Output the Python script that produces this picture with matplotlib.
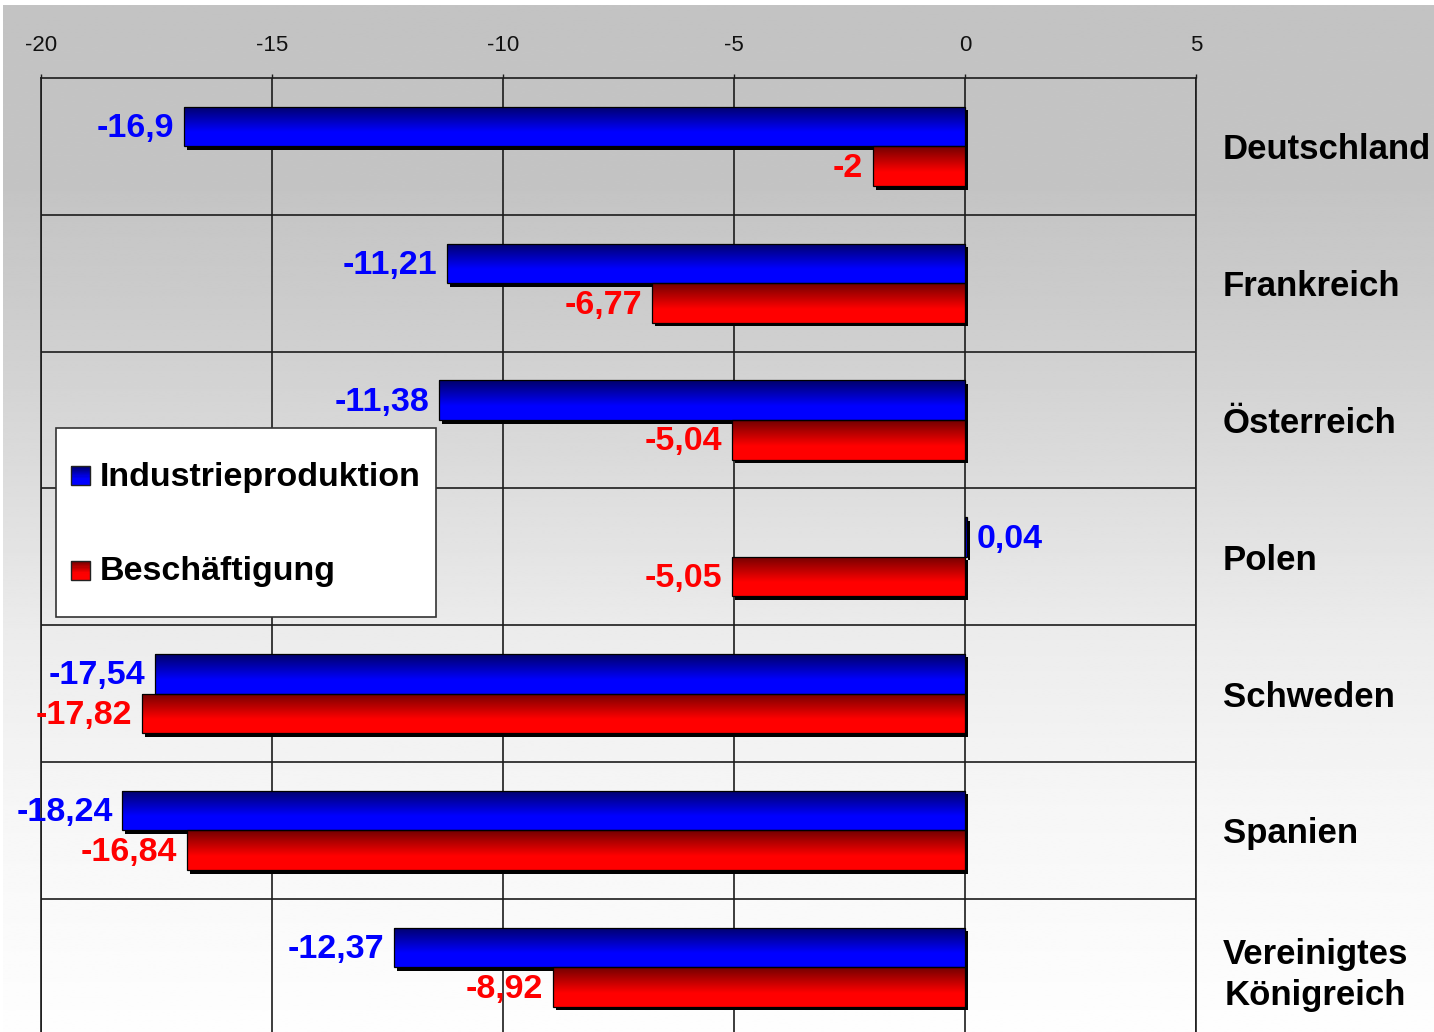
import numpy as np
import matplotlib
matplotlib.use("Agg")
import matplotlib.pyplot as plt
from matplotlib.patches import Rectangle
from matplotlib.legend_handler import HandlerBase
from matplotlib.transforms import ScaledTranslation

plt.rcParams["font.family"] = ["Liberation Sans", "DejaVu Sans"]
plt.rcParams["axes.unicode_minus"] = False

# Data: change in percent
countries = ["Deutschland", "Frankreich", "Österreich", "Polen",
             "Schweden", "Spanien", "Vereinigtes\nKönigreich"]
industrie = [-16.9, -11.21, -11.38, 0.04, -17.54, -18.24, -12.37]
beschaeftigung = [-2, -6.77, -5.04, -5.05, -17.82, -16.84, -8.92]
series_names = ["Industrieproduktion", "Beschäftigung"]
x_ticks = [-20, -15, -10, -5, 0, 5]

W, H, DPI = 1434, 1032, 100
fig = plt.figure(figsize=(W / DPI, H / DPI), dpi=DPI, facecolor="white")

# Gray-to-white background panel
bg = fig.add_axes([3 / W, 0, 1 - 3 / W, (H - 5) / H], zorder=-10)
rows = np.linspace(0, H - 5, 400)
shade = np.interp(rows, [0, 180, 300, 500, 630, 800, 1027],
                  [0.765, 0.768, 0.80, 0.875, 0.925, 0.965, 0.995])
bg.imshow(np.repeat(shade[:, None], 2, axis=1), cmap="gray", vmin=0, vmax=1,
          aspect="auto", extent=(0, 1, 1, 0), interpolation="bilinear")
bg.set_axis_off()

top_px, row_px = 78, 136.8
ax = fig.add_axes([41 / W, 1 - (top_px + 7 * row_px) / H, 1155 / W, 7 * row_px / H])
ax.set_facecolor("none")

n = len(countries)
centers = np.arange(n) + 0.5
bh = 0.29
line_col = "#1c1c1c"


def gradient(dark, bright, steps=64):
    t = np.linspace(0, 1, steps)
    f = np.clip(t / 0.65, 0, 1)
    c = np.array(dark)[None, :] * (1 - f[:, None]) + np.array(bright)[None, :] * f[:, None]
    return c[:, None, :]


grads = [gradient((0, 0, 0.42), (0, 0, 1.0)), gradient((0.45, 0, 0), (1.0, 0, 0))]
label_cols = ["#0000ff", "#ff0000"]
shadow_tr = ax.transData + ScaledTranslation(3 / DPI, -3.5 / DPI, fig.dpi_scale_trans)

for k, vals in enumerate([industrie, beschaeftigung]):
    ys = centers - bh / 2 if k == 0 else centers + bh / 2
    ax.barh(ys, vals, height=bh, color="black", transform=shadow_tr, zorder=3)
    bars = ax.barh(ys, vals, height=bh, facecolor="none", edgecolor="black",
                   linewidth=0.9, zorder=5)
    for b, v in zip(bars, vals):
        x0, y0 = b.get_xy()
        im = ax.imshow(grads[k], aspect="auto", interpolation="bilinear",
                       extent=(x0, x0 + b.get_width(), y0 + b.get_height(), y0),
                       zorder=4)
        im.set_clip_path(b)
        txt = f"{v:g}".replace(".", ",")
        off = -7 if v < 0 else 7
        ax.annotate(txt, xy=(v, b.get_y() + b.get_height() / 2),
                    xytext=(off, -1.5), textcoords="offset points",
                    ha="right" if v < 0 else "left", va="center",
                    fontsize=24.5, fontweight="bold", color=label_cols[k],
                    annotation_clip=False, zorder=8)

ax.set_xlim(-20, 5)
ax.set_ylim(n, 0)

# Axis ticks at top, categories on the right
ax.xaxis.tick_top()
ax.set_xticks(x_ticks)
ax.set_xticklabels([str(t) for t in x_ticks])
ax.tick_params(axis="x", which="major", length=3, width=1, color=line_col,
               labelsize=16, pad=13, labelcolor="#111111")
ax.yaxis.tick_right()
ax.set_yticks(centers)
ax.set_yticklabels(countries)
ax.tick_params(axis="y", which="both", length=0, labelsize=25, pad=19.5)
for lbl in ax.get_yticklabels():
    lbl.set_fontweight("bold")
    lbl.set_multialignment("center")
    lbl.set_linespacing(1.3)
ax.set_yticks(np.arange(1, n), minor=True)

ax.grid(axis="x", which="major", color=line_col, linewidth=1.2, zorder=1)
ax.grid(axis="y", which="minor", color=line_col, linewidth=1.2, zorder=1)
ax.set_axisbelow(True)
for s in ax.spines.values():
    s.set_color(line_col)
    s.set_linewidth(1.2)


class GradientSquare(HandlerBase):
    def __init__(self, grad, side_px):
        super().__init__()
        self.grad = grad
        self.side = side_px * 72 / DPI

    def create_artists(self, legend, orig_handle, xdescent, ydescent, width,
                       height, fontsize, trans):
        side = self.side
        x0, y0 = -xdescent, -ydescent + (height - side) / 2
        arts = []
        m = self.grad.shape[0]
        for i in range(m):
            arts.append(Rectangle((x0, y0 + side * (m - 1 - i) / m), side, side / m,
                                  facecolor=self.grad[i, 0], edgecolor="none",
                                  transform=trans))
        arts.append(Rectangle((x0, y0), side, side, facecolor="none",
                              edgecolor="#222222", linewidth=1.0, transform=trans))
        return arts


h1 = Rectangle((0, 0), 1, 1)
h2 = Rectangle((0, 0), 1, 1)
leg = ax.legend([h1, h2], series_names,
                handler_map={h1: GradientSquare(grads[0][::4], 19),
                             h2: GradientSquare(grads[1][::4], 19)},
                loc="upper left", bbox_to_anchor=(56 / W, 1 - 428 / H),
                bbox_transform=fig.transFigure,
                prop={"size": 24.5, "weight": "bold"},
                frameon=True, fancybox=False, framealpha=1, facecolor="white",
                edgecolor="#333333", borderpad=0.45, labelspacing=0.9,
                handlelength=0.57, handleheight=2.52, handletextpad=0.27,
                borderaxespad=0)
leg.get_frame().set_linewidth(1.2)
leg.set_zorder(20)

fig.savefig("out.png", dpi=DPI, facecolor="white")
